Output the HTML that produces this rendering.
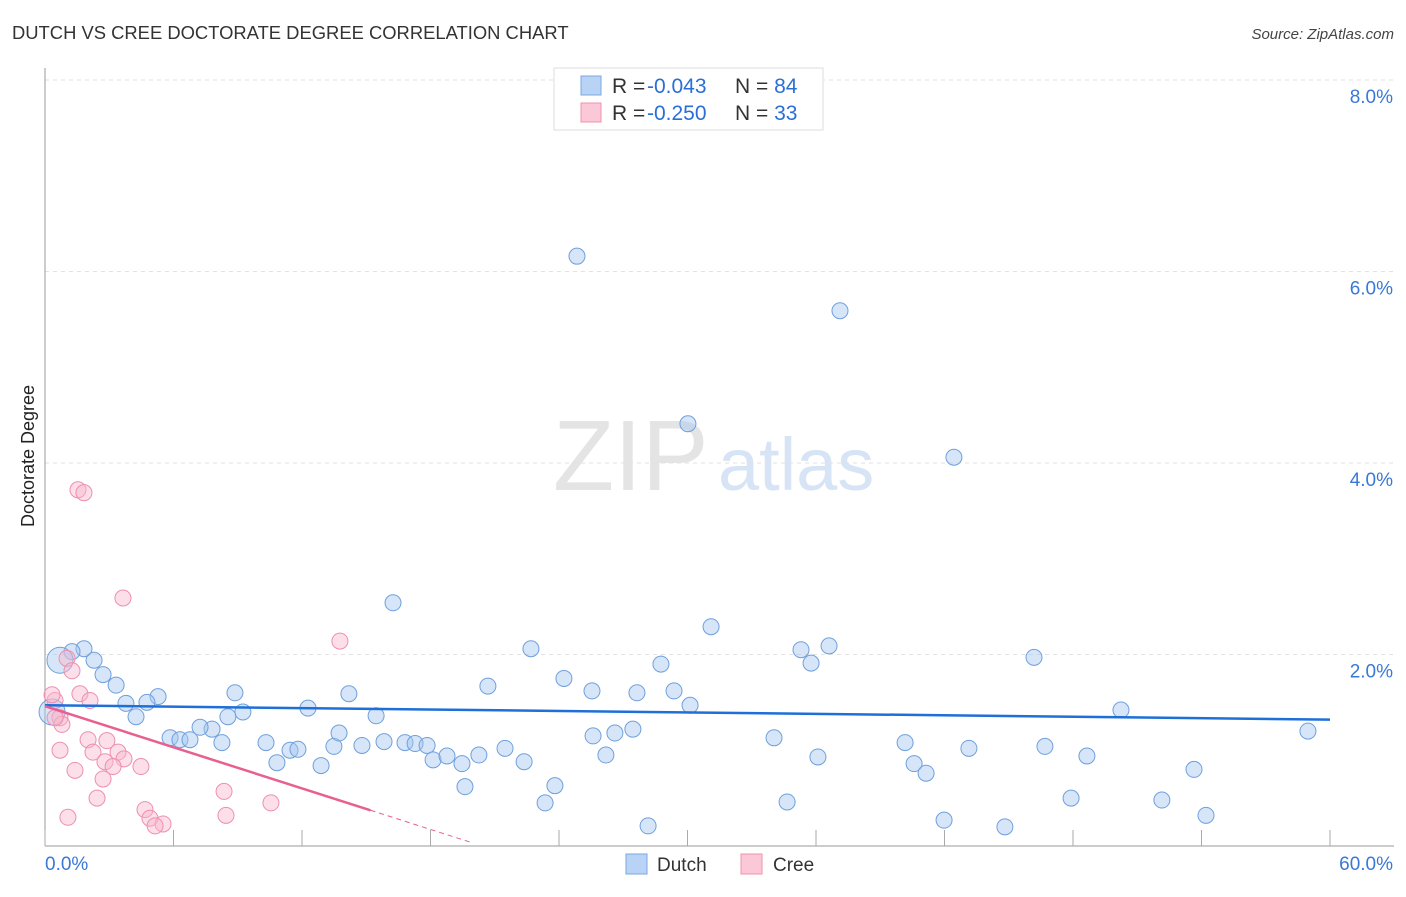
<!DOCTYPE html>
<html><head><meta charset="utf-8"><style>
body{margin:0;background:#fff;font-family:"Liberation Sans",sans-serif;}
svg text{font-family:"Liberation Sans",sans-serif;}
</style></head><body>
<svg id="c" width="1406" height="892">
<text x="12" y="39" font-size="18.4" fill="#333">DUTCH VS CREE DOCTORATE DEGREE CORRELATION CHART</text>
<text x="1394" y="39" font-size="15" fill="#444" font-style="italic" text-anchor="end">Source: ZipAtlas.com</text>
<text x="0" y="0" font-size="18" fill="#222" transform="translate(34,456) rotate(-90)" text-anchor="middle">Doctorate Degree</text>
<g>
<text x="553" y="490" font-size="100" fill="#e4e4e4" font-family="Liberation Serif,serif">ZIP</text>
<text x="718" y="490" font-size="74" fill="#d6e4f5">atlas</text></g>
<g id="grid"></g><g id="pts"></g><g id="lines"></g>
<g>
<rect x="554" y="68" width="269" height="62" fill="#fff" stroke="#ddd"/>
<rect x="581" y="76" width="20" height="19" fill="#b8d3f5" stroke="#7aa8e0"/>
<rect x="581" y="103" width="20" height="19" fill="#fbc8d8" stroke="#f090b0"/>
<text x="612" y="93" font-size="21" fill="#333">R = <tspan x="647" fill="#2a6fd6">-0.043</tspan><tspan x="735">N = </tspan><tspan fill="#2a6fd6">84</tspan></text>
<text x="612" y="120" font-size="21" fill="#333">R = <tspan x="647" fill="#2a6fd6">-0.250</tspan><tspan x="735">N = </tspan><tspan fill="#2a6fd6">33</tspan></text>
</g>
<g>
<rect x="626" y="854" width="21" height="20" fill="#b8d3f5" stroke="#7aa8e0"/>
<text x="657" y="871" font-size="19" fill="#333">Dutch</text>
<rect x="741" y="854" width="21" height="20" fill="#fbc8d8" stroke="#f090b0"/>
<text x="773" y="871" font-size="19" fill="#333">Cree</text>
</g>
</svg>
<script>
const xTicks=[0,6,12,18,24,30,36,42,48,54,60];
const yTicks=[2,4,6,8];
const yTickLabels=["2.0%","4.0%","6.0%","8.0%"];
const xEndLabels=["0.0%","60.0%"];
const dutchX=[24.84,37.12,30.02,42.44,16.25,31.10,22.69,35.30,36.61,35.77,46.18,28.76,24.23,20.68,25.54,27.64,29.37,30.12,50.24,58.97,8.87,5.28,4.76,3.78,4.25,3.32,2.71,2.29,1.82,1.26,0.70,0.33,14.19,12.28,9.24,8.54,7.80,7.24,5.84,6.30,6.77,8.26,10.32,10.83,11.44,11.81,12.89,13.49,13.73,14.80,15.46,15.83,16.81,17.28,17.84,18.12,18.77,19.47,20.26,21.48,22.37,19.61,23.81,23.35,25.59,26.61,27.45,26.19,28.16,34.04,36.09,34.65,40.16,40.58,41.14,43.14,46.69,48.65,41.98,44.82,47.91,52.15,53.65,54.21];
const dutchY=[6.16,5.59,4.41,4.06,2.54,2.29,2.06,2.05,2.09,1.91,1.97,1.90,1.75,1.67,1.62,1.60,1.62,1.47,1.42,1.20,1.60,1.56,1.50,1.49,1.35,1.68,1.79,1.94,2.06,2.03,1.94,1.40,1.59,1.44,1.40,1.35,1.22,1.24,1.13,1.11,1.11,1.08,1.08,0.87,1.00,1.01,0.84,1.04,1.18,1.05,1.36,1.09,1.08,1.07,1.05,0.90,0.94,0.86,0.95,1.02,0.88,0.62,0.63,0.45,1.15,1.18,1.22,0.95,0.21,1.13,0.93,0.46,1.08,0.86,0.76,1.02,1.04,0.94,0.27,0.20,0.50,0.48,0.80,0.32];
const creeX=[1.54,1.82,3.64,13.77,1.03,1.26,1.63,2.10,0.47,0.70,0.79,2.01,0.70,2.89,2.24,3.41,2.80,3.69,4.48,1.40,2.71,3.18,8.36,2.43,4.67,4.90,5.51,5.14,8.45,10.55,1.07,0.47,0.33];
const creeY=[3.72,3.69,2.59,2.14,1.96,1.83,1.59,1.52,1.52,1.34,1.27,1.11,1.00,1.10,0.98,0.98,0.88,0.91,0.83,0.79,0.70,0.83,0.57,0.50,0.38,0.29,0.23,0.21,0.32,0.45,0.30,1.34,1.58];
const dutchTrend=[1.47,1.32]; // at x=0 and x=60
const creeTrend=[1.46,0.03]; // at x=0 and x=20
const NS="http://www.w3.org/2000/svg";
const X=v=>45+v/60*1285, Y=v=>846-v*95.75;
function mk(t,a,p){const e=document.createElementNS(NS,t);for(const k in a)e.setAttribute(k,a[k]);p.appendChild(e);return e;}
const grid=document.getElementById('grid');
yTicks.forEach((t,i)=>{
 const l=mk('line',{x1:45,x2:1394,y1:Y(t),y2:Y(t),stroke:'#e2e2e2','stroke-dasharray':'4,4'},grid);
 
 
 const tx=mk('text',{x:1393,y:Y(t)+23,'font-size':19,fill:'#3a78d8','text-anchor':'end'},grid);tx.textContent=yTickLabels[i];
 
 
});
mk('line',{x1:45,x2:45,y1:68,y2:846,stroke:'#999'},grid);
const xa=mk('line',{x1:45,x2:1394,y1:846,y2:846,stroke:'#999'},grid);


xTicks.forEach(t=>{const l=mk('line',{x1:X(t),x2:X(t),y1:830,y2:846,stroke:'#aaa'},grid);
 
 });
const a=mk('text',{x:45,y:870,'font-size':19,fill:'#3a78d8'},grid);a.textContent=xEndLabels[0];


const b=mk('text',{x:1393,y:870,'font-size':19,fill:'#3a78d8','text-anchor':'end'},grid);b.textContent=xEndLabels[1];


const pts=document.getElementById('pts');
dutchX.forEach((x,i)=>{const c=mk('circle',{cx:X(x),cy:Y(dutchY[i]),r:(i==31||i==30)?13:8,fill:'rgba(165,198,240,0.45)',stroke:'#6fa0dd','stroke-width':1},pts);
 
 });
creeX.forEach((x,i)=>{const c=mk('circle',{cx:X(x),cy:Y(creeY[i]),r:8,fill:'rgba(248,185,205,0.45)',stroke:'#ee8fb0','stroke-width':1},pts);
 
 });
const L=document.getElementById('lines');
const d=mk('line',{x1:X(0),y1:Y(dutchTrend[0]),x2:X(60),y2:Y(dutchTrend[1]),stroke:'#1f6fd8','stroke-width':2.5},L);


const cy=x=>creeTrend[0]+(creeTrend[1]-creeTrend[0])*x/20;
const c1=mk('line',{x1:X(0),y1:Y(cy(0)),x2:X(15.2),y2:Y(cy(15.2)),stroke:'#e8608f','stroke-width':2.5},L);


const c2=mk('line',{x1:X(15.2),y1:Y(cy(15.2)),x2:X(20),y2:Y(cy(20)),stroke:'#e8608f','stroke-width':1,'stroke-dasharray':'5,4'},L);


</script>
</body></html>
